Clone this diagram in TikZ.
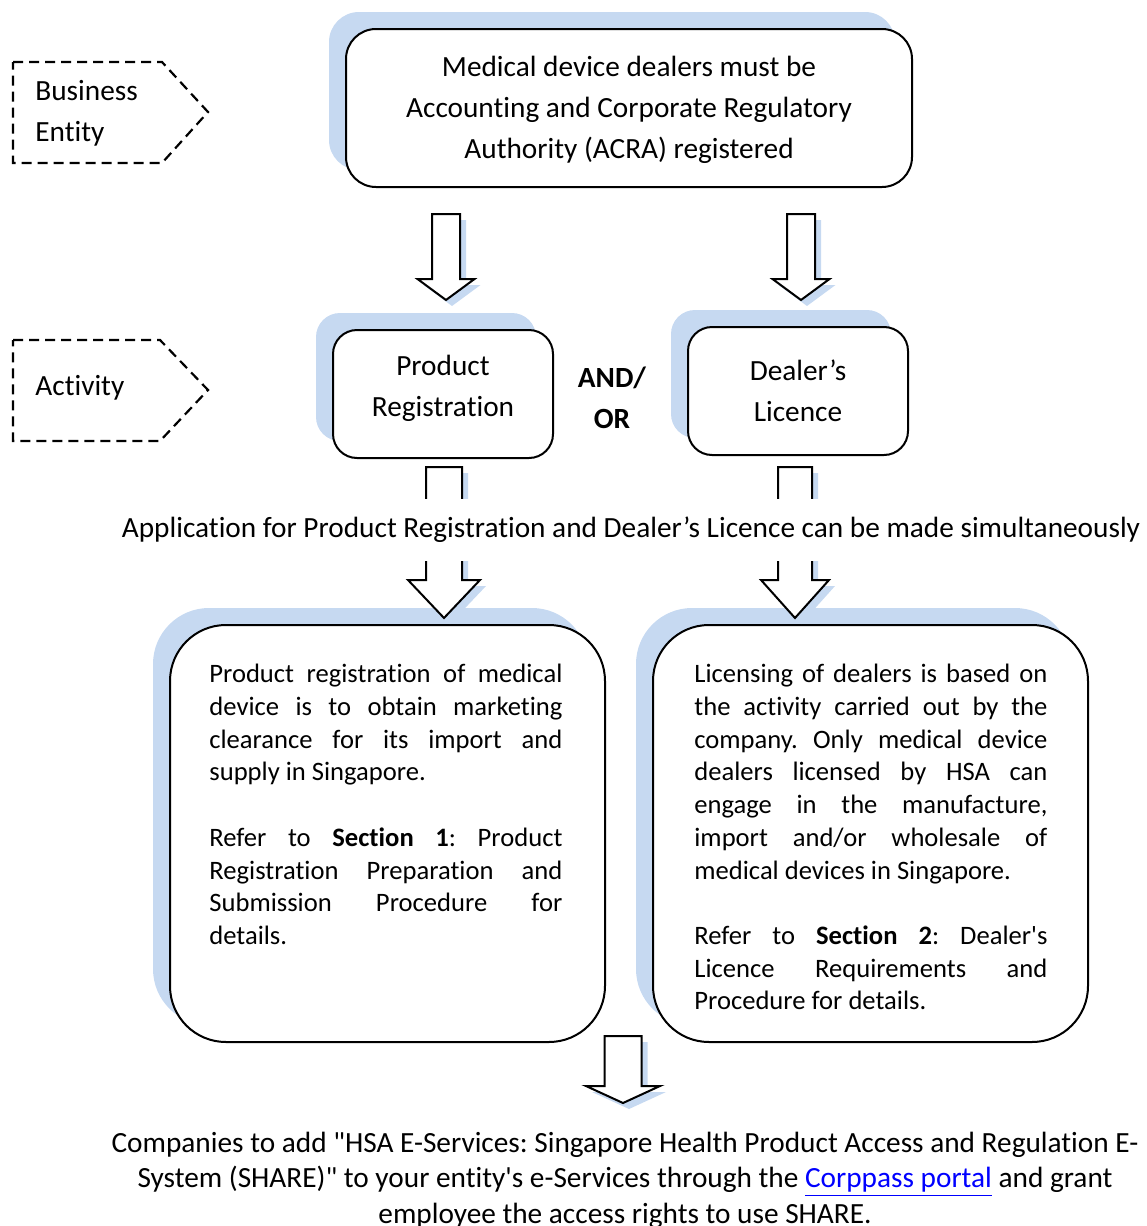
\documentclass[tikz,border=0pt]{standalone}
\usepackage{fontspec}
\setmainfont{Carlito}[Ligatures={TeX,NoCommon}]
\usepackage{xcolor}
\usetikzlibrary{shadows,positioning}

\definecolor{shadowblue}{RGB}{198,217,241}
\definecolor{linkblue}{RGB}{0,0,255}

\frenchspacing
\hbadness=10000

\newcommand{\bigtxt}{\fontsize{14.65pt}{20.5pt}\selectfont}
\newcommand{\boxtxt}{\fontsize{13.3pt}{16.35pt}\selectfont}
\newcommand{\notetxt}{\fontsize{14.65pt}{17.75pt}\selectfont}

% block arrow: centre x, top y, head y, tip y, half shaft, half head
\newcommand{\blockarrow}[6]{%
  \fill[shadowblue, shift={(6,6)}] (#1-#5,#2) -- (#1+#5,#2) -- (#1+#5,#3) -- (#1+#6,#3)
    -- (#1,#4) -- (#1-#6,#3) -- (#1-#5,#3) -- cycle;
  \draw[arrowline] (#1-#5,#2) -- (#1+#5,#2) -- (#1+#5,#3) -- (#1+#6,#3)
    -- (#1,#4) -- (#1-#6,#3) -- (#1-#5,#3) -- cycle;}

\tikzset{
  boxshadow/.style={general shadow={fill=shadowblue, shadow xshift=-8.5pt, shadow yshift=8.5pt}},
  mainbox/.style={draw, line width=1pt, fill=white, boxshadow, font=\bigtxt, align=center},
  arrowline/.style={draw, fill=white, line width=1pt, line join=miter},
  tagline/.style={line width=1.1pt, dash pattern=on 5pt off 3pt},
  tagtext/.style={anchor=west, align=left, font=\bigtxt, inner sep=0pt},
  boxtext/.style={anchor=north west, inner sep=0pt, text width=176.5pt, align=justify, font=\boxtxt},
}

\begin{document}
\begin{tikzpicture}[x=0.5pt, y=-0.5pt]
\useasboundingbox (0,0) rectangle (1146,1226);

% left hand tags
\draw[tagline] (13,62) -- (162,62) -- (208,112) -- (162,163) -- (13,163) -- cycle;
\node[tagtext] (entity) at (35,113) {Business\\Entity};
\draw[tagline] (13,340) -- (160,340) -- (208,390) -- (160,441) -- (13,441) -- cycle;
\node[tagtext] (activity) at (35,388) {Activity};

% boxes
\node[mainbox, minimum width=283pt, minimum height=79pt, rounded corners=15pt]
  (acra) at (629,108) {};
\node[font=\bigtxt, align=center] at ([yshift=-1pt]acra.center)
  {Medical device dealers must be\\Accounting and Corporate Regulatory\\Authority (ACRA) registered};

\node[mainbox, minimum width=110pt, minimum height=64pt, rounded corners=12pt]
  (prodreg) at (443,394) {};
\node[font=\bigtxt, align=center] at ([yshift=3pt]prodreg.center) {Product\\Registration};
\node[mainbox, minimum width=110pt, minimum height=64pt, rounded corners=12pt]
  (dealer) at (798,391) {Dealer’s\\Licence};
\node[font=\bigtxt\bfseries, align=center] (andor) at (612,398) {AND/\\OR};

\node[mainbox, minimum width=217.5pt, minimum height=208.5pt, rounded corners=28pt]
  (prodinfo) at (387.5,833.5) {};
\node[boxtext] at ([xshift=20pt, yshift=-20pt]prodinfo.north west)
  {Product registration of medical\linebreak device is to obtain marketing\linebreak
   clearance for its import and\linebreak supply in Singapore.\par\vspace{\baselineskip}
   Refer to \textbf{Section 1}: Product\linebreak Registration Preparation and\linebreak
   Submission Procedure for\linebreak details.};

\node[mainbox, minimum width=217.5pt, minimum height=208.5pt, rounded corners=28pt]
  (dealinfo) at (870.5,833.5) {};
\node[boxtext] at ([xshift=21pt, yshift=-20pt]dealinfo.north west)
  {Licensing of dealers is based on\linebreak the activity carried out by the\linebreak
   company. Only medical device\linebreak dealers licensed by HSA can\linebreak
   engage in the manufacture,\linebreak import and/or wholesale of\linebreak
   medical devices in Singapore.\par\vspace{\baselineskip}
   Refer to \textbf{Section 2}: Dealer\textquotesingle s\linebreak
   Licence Requirements and\linebreak Procedure for details.};

% block arrows
\blockarrow{446}{214}{279}{300}{14}{28.5}
\blockarrow{801}{214}{279}{300}{14}{28.5}
\blockarrow{444}{467}{580}{618}{18}{36}
\blockarrow{795}{467}{580}{618}{17}{34}
\blockarrow{623}{1036}{1086}{1103}{18.5}{37}

\node[font=\bigtxt, fill=white, minimum height=31pt, inner xsep=3pt] (simul) at (631,530)
  {Application for Product Registration and Dealer’s Licence can be made simultaneously};

\node[font=\notetxt, align=center] (corppass) at (625,1180)
  {Companies to add \textquotedbl HSA E-Services: Singapore Health Product Access and Regulation E-\\
   System (SHARE)\textquotedbl{} to your entity\textquotesingle s e-Services through the
   \textcolor{linkblue}{\underline{Corppass portal}} and grant\\
   employee the access rights to use SHARE.};
\end{tikzpicture}
\end{document}
